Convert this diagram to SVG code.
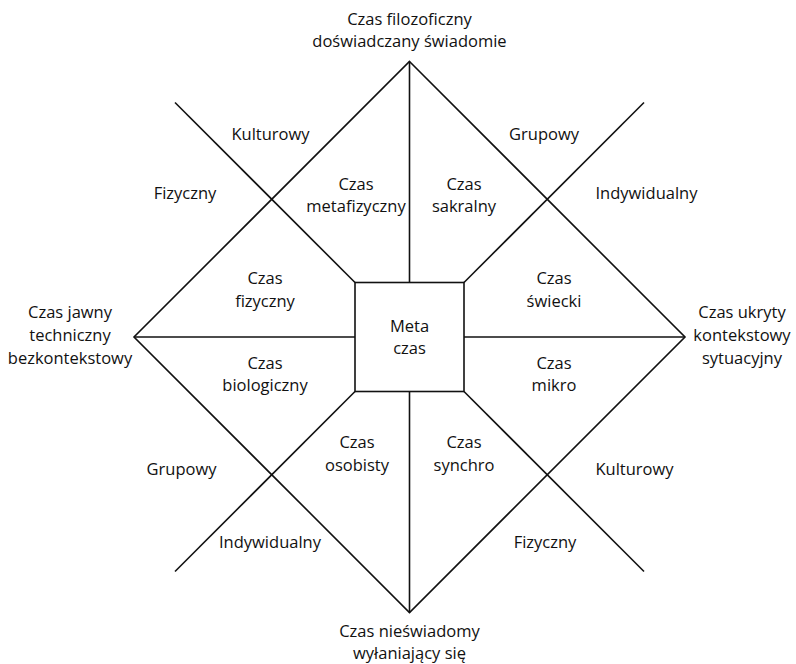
<svg xmlns="http://www.w3.org/2000/svg" width="796" height="664" viewBox="0 0 796 664">
<style>
.ln{stroke:#111;stroke-width:1.6;fill:none;stroke-linecap:butt;stroke-linejoin:miter}
text{font-family:"Open Sans","Noto Sans","Liberation Sans",sans-serif;font-size:16.5px;fill:#111;text-anchor:middle}
</style>
<rect width="796" height="664" fill="#fff"/>
<g id="connectors">
<polygon class="ln" points="409.5,61.5 685,337 409.5,612.5 134,337"/>
<line class="ln" x1="409.5" y1="61.5" x2="409.5" y2="282.5"/>
<line class="ln" x1="409.5" y1="391.5" x2="409.5" y2="612.5"/>
<line class="ln" x1="134" y1="337" x2="355" y2="337"/>
<line class="ln" x1="464" y1="337" x2="685" y2="337"/>
<line class="ln" x1="175" y1="102.5" x2="355" y2="282.5"/>
<line class="ln" x1="644" y1="102.5" x2="464" y2="282.5"/>
<line class="ln" x1="355" y1="391.5" x2="175" y2="571.5"/>
<line class="ln" x1="464" y1="391.5" x2="644" y2="571.5"/>
</g>
<g id="meta-czas">
<rect class="ln" x="355" y="282.5" width="109" height="109"/>
<text x="409.5" y="332">Meta</text>
<text x="409.5" y="354">czas</text>
</g>
<g id="top-label"><text x="409.5" y="25">Czas filozoficzny</text><text x="409.5" y="47">doświadczany świadomie</text></g>
<g id="bottom-label"><text x="409.5" y="637">Czas nieświadomy</text><text x="409.5" y="659">wyłaniający się</text></g>
<g id="left-label"><text x="70" y="318">Czas jawny</text><text x="70" y="341">techniczny</text><text x="70" y="364">bezkontekstowy</text></g>
<g id="right-label"><text x="742" y="318">Czas ukryty</text><text x="742" y="341">kontekstowy</text><text x="742" y="364">sytuacyjny</text></g>
<g id="czas-metafizyczny"><text x="356" y="190">Czas</text><text x="356" y="212">metafizyczny</text></g>
<g id="czas-sakralny"><text x="464" y="190">Czas</text><text x="464" y="212">sakralny</text></g>
<g id="czas-fizyczny"><text x="265" y="284">Czas</text><text x="265" y="307">fizyczny</text></g>
<g id="czas-swiecki"><text x="554" y="284">Czas</text><text x="554" y="307">świecki</text></g>
<g id="czas-biologiczny"><text x="265" y="369">Czas</text><text x="265" y="391">biologiczny</text></g>
<g id="czas-mikro"><text x="554" y="369">Czas</text><text x="554" y="391">mikro</text></g>
<g id="czas-osobisty"><text x="357" y="448">Czas</text><text x="357" y="471">osobisty</text></g>
<g id="czas-synchro"><text x="464" y="448">Czas</text><text x="464" y="471">synchro</text></g>
<g id="kulturowy-top"><text x="270.5" y="140">Kulturowy</text></g>
<g id="grupowy-top"><text x="544" y="140">Grupowy</text></g>
<g id="fizyczny-top"><text x="185" y="199">Fizyczny</text></g>
<g id="indywidualny-top"><text x="646.5" y="199">Indywidualny</text></g>
<g id="grupowy-bottom"><text x="181.5" y="475">Grupowy</text></g>
<g id="kulturowy-bottom"><text x="634.5" y="475">Kulturowy</text></g>
<g id="indywidualny-bottom"><text x="270" y="548">Indywidualny</text></g>
<g id="fizyczny-bottom"><text x="545" y="548">Fizyczny</text></g>
</svg>
